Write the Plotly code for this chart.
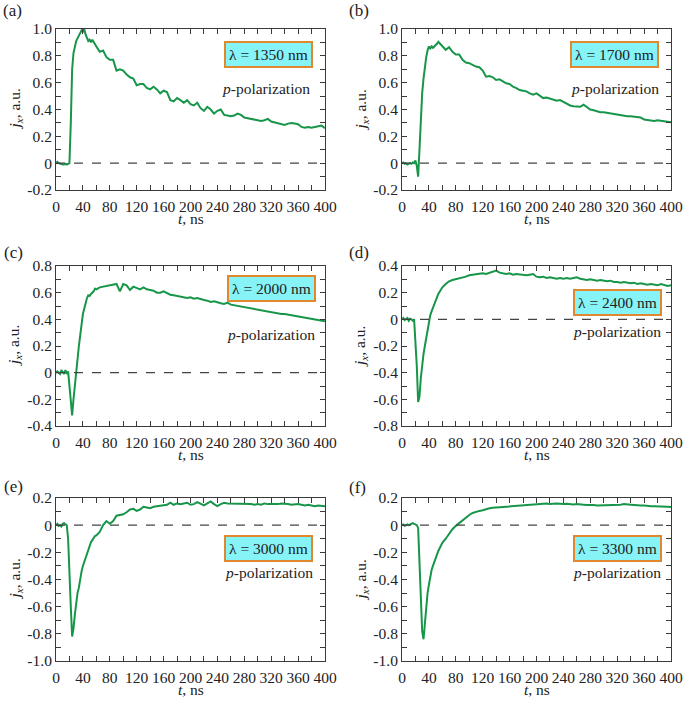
import plotly.graph_objects as go

# Sampling grid (ns)
T = [*range(0, 60, 2), *range(60, 401, 5)]

panel_labels = ["(a)", "(b)", "(c)", "(d)", "(e)", "(f)"]
wavelengths = ["1350", "1700", "2000", "2400", "3000", "3300"]
y_ranges = [(-0.2, 1.0), (-0.2, 1.0), (-0.4, 0.8), (-0.8, 0.4), (-1.0, 0.2), (-1.0, 0.2)]
y_tickvals = [[-0.2, 0, 0.2, 0.4, 0.6, 0.8, 1.0],
              [-0.2, 0, 0.2, 0.4, 0.6, 0.8, 1.0],
              [-0.4, -0.2, 0, 0.2, 0.4, 0.6, 0.8],
              [-0.8, -0.6, -0.4, -0.2, 0, 0.2, 0.4],
              [-1.0, -0.8, -0.6, -0.4, -0.2, 0, 0.2],
              [-1.0, -0.8, -0.6, -0.4, -0.2, 0, 0.2]]
y_ticktext = [["-0.2", "0", "0.2", "0.4", "0.6", "0.8", "1.0"],
              ["-0.2", "0", "0.2", "0.4", "0.6", "0.8", "1.0"],
              ["-0.4", "-0.2", "0", "0.2", "0.4", "0.6", "0.8"],
              ["-0.8", "-0.6", "-0.4", "-0.2", "0", "0.2", "0.4"],
              ["-1.0", "-0.8", "-0.6", "-0.4", "-0.2", "0", "0.2"],
              ["-1.0", "-0.8", "-0.6", "-0.4", "-0.2", "0", "0.2"]]

ja = [0.0, 0.01, 0.0, -0.005, -0.01, -0.01, -0.01, -0.005, -0.01, -0.005,
      0.0, 0.3, 0.7, 0.82, 0.87, 0.91, 0.93, 0.95, 0.97, 0.99,
      0.98, 1.0, 0.96, 0.93, 0.91, 0.92, 0.9, 0.92, 0.9, 0.88,
      0.87, 0.83, 0.84, 0.79, 0.77, 0.77, 0.69, 0.7, 0.69, 0.66,
      0.64, 0.63, 0.58, 0.59, 0.59, 0.56, 0.55, 0.57, 0.55, 0.52,
      0.54, 0.53, 0.47, 0.46, 0.485, 0.47, 0.45, 0.47, 0.44, 0.43,
      0.45, 0.41, 0.39, 0.42, 0.4, 0.37, 0.39, 0.4, 0.36, 0.355,
      0.35, 0.355, 0.37, 0.36, 0.34, 0.335, 0.33, 0.32, 0.32, 0.315,
      0.32, 0.33, 0.31, 0.305, 0.3, 0.29, 0.285, 0.295, 0.3, 0.295,
      0.29, 0.27, 0.265, 0.27, 0.265, 0.27, 0.275, 0.28, 0.26]

jb = [0.0, 0.005, -0.005, 0.0, -0.01, -0.005, 0.0, -0.005, 0.005, 0.0,
      0.02, -0.02, -0.1, 0.1, 0.38, 0.52, 0.63, 0.73, 0.79, 0.84,
      0.87, 0.855, 0.87, 0.86, 0.87, 0.875, 0.89, 0.905, 0.895, 0.88,
      0.87, 0.845, 0.865, 0.83, 0.81, 0.81, 0.77, 0.75, 0.745, 0.73,
      0.72, 0.715, 0.69, 0.645, 0.65, 0.64, 0.62, 0.625, 0.61, 0.595,
      0.59, 0.57, 0.56, 0.545, 0.54, 0.535, 0.52, 0.51, 0.52, 0.5,
      0.485, 0.49, 0.48, 0.47, 0.465, 0.47, 0.455, 0.44, 0.43, 0.425,
      0.42, 0.42, 0.435, 0.42, 0.4, 0.395, 0.385, 0.38, 0.38, 0.375,
      0.37, 0.365, 0.36, 0.355, 0.35, 0.35, 0.35, 0.345, 0.345, 0.34,
      0.325, 0.32, 0.32, 0.315, 0.32, 0.315, 0.31, 0.31, 0.305]

jc = [0.0, 0.01, 0.0, -0.01, 0.02, 0.0, -0.01, 0.02, -0.01, 0.01,
      -0.1, -0.26, -0.32, -0.2, -0.09, 0.04, 0.13, 0.2, 0.28, 0.37,
      0.44, 0.48, 0.53, 0.56, 0.58, 0.575, 0.59, 0.6, 0.61, 0.63,
      0.625, 0.64, 0.645, 0.65, 0.655, 0.66, 0.665, 0.61, 0.665, 0.655,
      0.62, 0.645, 0.635, 0.625, 0.64, 0.625, 0.62, 0.615, 0.6, 0.6,
      0.61, 0.595, 0.585, 0.58, 0.575, 0.575, 0.57, 0.56, 0.565, 0.555,
      0.56, 0.55, 0.545, 0.54, 0.53, 0.535, 0.525, 0.52, 0.515, 0.525,
      0.51, 0.505, 0.5, 0.5, 0.49, 0.485, 0.48, 0.475, 0.47, 0.465,
      0.46, 0.455, 0.45, 0.445, 0.445, 0.44, 0.44, 0.435, 0.43, 0.425,
      0.42, 0.415, 0.41, 0.405, 0.4, 0.395, 0.39, 0.39, 0.385]

jd = [0.0, 0.01, -0.005, 0.0, 0.01, -0.01, 0.005, 0.0, -0.01, 0.0,
      -0.15, -0.35, -0.62, -0.58, -0.44, -0.34, -0.26, -0.2, -0.14, -0.08,
      -0.03, 0.03, 0.06, 0.09, 0.12, 0.14, 0.165, 0.19, 0.21, 0.225,
      0.24, 0.265, 0.285, 0.295, 0.3, 0.305, 0.31, 0.32, 0.33, 0.335,
      0.335, 0.34, 0.345, 0.34, 0.35, 0.36, 0.365, 0.35, 0.345, 0.34,
      0.345, 0.335, 0.34, 0.335, 0.33, 0.33, 0.335, 0.34, 0.32, 0.315,
      0.32, 0.31, 0.315, 0.31, 0.305, 0.31, 0.305, 0.31, 0.305, 0.31,
      0.315, 0.305, 0.3, 0.295, 0.3, 0.295, 0.29, 0.295, 0.29, 0.285,
      0.29, 0.28, 0.28, 0.275, 0.28, 0.275, 0.27, 0.275, 0.265, 0.27,
      0.265, 0.26, 0.265, 0.26, 0.255, 0.265, 0.255, 0.25, 0.255]

je = [0.0, 0.01, -0.005, 0.0, -0.01, 0.01, 0.015, 0.01, 0.0, -0.1,
      -0.3, -0.6, -0.82, -0.76, -0.66, -0.56, -0.5, -0.46, -0.39, -0.34,
      -0.3, -0.27, -0.24, -0.21, -0.18, -0.15, -0.125, -0.11, -0.095, -0.08,
      -0.075, -0.05, 0.0, 0.03, 0.01, 0.03, 0.07, 0.075, 0.08, 0.095,
      0.115, 0.12, 0.105, 0.115, 0.135, 0.13, 0.125, 0.135, 0.14, 0.14,
      0.145, 0.15, 0.165, 0.15, 0.16, 0.155, 0.16, 0.165, 0.15, 0.155,
      0.17, 0.155, 0.145, 0.16, 0.175, 0.155, 0.14, 0.155, 0.165, 0.16,
      0.16, 0.155, 0.16, 0.155, 0.155, 0.16, 0.155, 0.15, 0.155, 0.15,
      0.16, 0.155, 0.155, 0.15, 0.155, 0.16, 0.16, 0.155, 0.15, 0.155,
      0.155, 0.15, 0.145, 0.15, 0.145, 0.14, 0.145, 0.14, 0.14]

jf = [0.0, 0.005, -0.005, 0.0, 0.005, 0.0, 0.005, 0.01, 0.015, 0.01,
      0.005, 0.0, -0.02, -0.25, -0.55, -0.78, -0.84, -0.72, -0.6, -0.5,
      -0.44, -0.38, -0.33, -0.3, -0.27, -0.24, -0.21, -0.19, -0.17, -0.15,
      -0.13, -0.1, -0.06, -0.03, -0.005, 0.015, 0.035, 0.06, 0.075, 0.09,
      0.1, 0.105, 0.11, 0.12, 0.125, 0.128, 0.13, 0.133, 0.135, 0.135,
      0.138, 0.14, 0.14, 0.14, 0.145, 0.145, 0.15, 0.153, 0.15, 0.155,
      0.155, 0.16, 0.155, 0.158, 0.16, 0.158, 0.155, 0.158, 0.155, 0.153,
      0.155, 0.15, 0.15, 0.148, 0.15, 0.148, 0.145, 0.145, 0.148, 0.145,
      0.148, 0.148, 0.15, 0.15, 0.155, 0.15, 0.15, 0.148, 0.145, 0.145,
      0.145, 0.14, 0.14, 0.14, 0.14, 0.138, 0.137, 0.135, 0.133]

series = [ja, jb, jc, jd, je, jf]

W, H = 685, 701
FONT = "'Liberation Serif', 'Times New Roman', Times, serif"
GREEN = "#17964a"
AX = "#3a3a3a"

# pixel layout (left, right, top, bottom)
boxes = [(56, 325, 29, 190), (402, 671, 29, 190),
         (56, 325, 266, 426), (402, 671, 266, 426),
         (56, 325, 498, 661), (402, 671, 498, 661)]
lam_pos = [(0.79, 0.84), (0.79, 0.84), (0.80, 0.86), (0.80, 0.775), (0.79, 0.69), (0.80, 0.69)]
pol_pos = [(0.78, 0.63), (0.79, 0.63), (0.80, 0.57), (0.80, 0.59), (0.79, 0.54), (0.80, 0.546)]
lab_pos = [(12, 11), (359, 11), (13, 252), (359, 252), (13, 486), (357, 487)]

fig = go.Figure()
layout = dict(width=W, height=H, margin=dict(l=0, r=0, t=0, b=0, autoexpand=False),
              plot_bgcolor="white", paper_bgcolor="white", showlegend=False,
              font=dict(family=FONT, size=15, color="#222"))
annotations = []
shapes = []
C = dict(xanchor="center", yanchor="middle", showarrow=False)

for i in range(6):
    n = "" if i == 0 else str(i + 1)
    xa, ya = "x" + n, "y" + n
    l, r, t, b = boxes[i]
    fig.add_trace(go.Scatter(x=T, y=series[i], mode="lines", xaxis=xa, yaxis=ya,
                             line=dict(color=GREEN, width=2)))
    common = dict(showline=True, linecolor=AX, linewidth=1, mirror="allticks",
                  ticks="inside", ticklen=5, tickwidth=1, tickcolor=AX,
                  showgrid=False, zeroline=False, automargin=False,
                  tickfont=dict(family=FONT, size=15.5, color="#222"))
    layout["xaxis" + n] = dict(domain=[l / W, r / W], anchor=ya, range=[0, 400],
                               tick0=0, dtick=40, ticklabelstandoff=2,
                               minor=dict(dtick=20, ticks="inside", ticklen=5, tickcolor=AX, showgrid=False),
                               **common)
    y0, y1 = y_ranges[i]
    layout["yaxis" + n] = dict(domain=[1 - b / H, 1 - t / H], anchor=xa, range=[y0, y1],
                               tickmode="array", tickvals=y_tickvals[i], ticktext=y_ticktext[i],
                               minor=dict(dtick=0.1, tick0=0, ticks="inside", ticklen=5, tickcolor=AX, showgrid=False),
                               **common)
    # zero dashed line
    shapes.append(dict(type="line", xref=xa + " domain", yref=ya, x0=0, x1=1, y0=0, y1=0,
                       line=dict(color="#444", width=1.2, dash="dash")))
    annotations.append(dict(xref=xa + " domain", yref=ya + " domain", x=lam_pos[i][0], y=lam_pos[i][1],
                            text="λ = " + wavelengths[i] + " nm",
                            font=dict(family=FONT, size=15.5, color="#222"),
                            bgcolor="#86f3f7", bordercolor="#e0882e", borderwidth=2, borderpad=3, **C))
    annotations.append(dict(xref=xa + " domain", yref=ya + " domain", x=pol_pos[i][0], y=pol_pos[i][1],
                            text="<i>p</i>-polarization",
                            font=dict(family=FONT, size=15.5, color="#222"), **C))
    annotations.append(dict(xref="paper", yref="paper", x=lab_pos[i][0] / W, y=1 - lab_pos[i][1] / H,
                            text=panel_labels[i],
                            font=dict(family=FONT, size=17, color="#222"), **C))
    # axis titles
    annotations.append(dict(xref="paper", yref="paper", x=(l - 41) / W, y=1 - (t + b) / 2 / H,
                            text="<i>j</i><sub><i>x</i></sub>, a.u.", textangle=-90,
                            font=dict(family=FONT, size=15.5, color="#222"), **C))
    annotations.append(dict(xref="paper", yref="paper", x=(l + r) / 2 / W, y=1 - (b + 28) / H,
                            text="<i>t</i>, ns",
                            font=dict(family=FONT, size=15.5, color="#222"), **C))

layout["annotations"] = annotations
layout["shapes"] = shapes
fig.update_layout(**layout)
fig.write_html("out.html", config={"displayModeBar": False},
               post_script="document.body.style.margin='0';document.body.style.padding='0';")
